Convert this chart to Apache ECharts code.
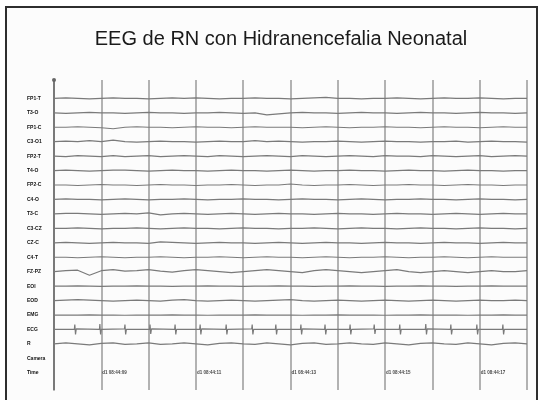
<!DOCTYPE html>
<html>
<head>
<meta charset="utf-8">
<script src="https://cdn.jsdelivr.net/npm/echarts@6/dist/echarts.min.js"></script>
<style>
html,body{margin:0;padding:0;background:#ffffff;}
#chart{width:544px;height:400px;}
</style>
</head>
<body>
<div id="chart"></div>
<script>
const titleText = "EEG de RN con Hidranencefalia Neonatal";
const channelLabels = ["FP1-T","T3-O","FP1-C","C3-O1","FP2-T","T4-O","FP2-C","C4-O","T3-C","C3-CZ","CZ-C","C4-T","FZ-PZ","EOI","EOD","EMG","ECG","R","Camera","Time"];
const timeTicks = [1,3,5,7,9];
const timeLabels = ["d1 08:44:09","d1 08:44:11","d1 08:44:13","d1 08:44:15","d1 08:44:17"];
const sampleStep = 0.25; // seconds between samples
const ampToRow = 1/14.45; // one amplitude unit in row heights

const ch0  = [0,0.5,0,-0.5,0,0.5,0,0,-0.5,0,0.5,0,0.5,0,-0.5,0,0,0.5,0,0,-0.5,0,0.5,1,0,0,-0.5,0,0,0.5,0,-0.5,0,0.5,0,0,0.5,0,-0.5,0,0];
const ch1  = [0,-0.5,0,0.5,0,0,-0.5,0,0.5,0,0,-0.5,0,0,0.5,0,-0.5,0,-2,-1,0,0.5,0,0,-0.5,0,0.5,0,0,-0.5,0,0.5,0,0,-0.5,0,0.5,0,0,-0.5,0];
const ch2  = [0,0,0.5,0,-0.5,-1.5,0,0.5,0,0,-0.5,0,0.5,0,0,-0.5,0,0.5,0,0,0,-0.5,0,0.5,0,-0.5,0,0,0.5,0,0,-0.5,0,0.5,0,0,-0.5,0,0.5,0,0];
const ch3  = [0,0.5,0,1,0,1.5,0,-0.5,0,0.5,0,0,-0.5,0,0.5,0,0,1,0,0.5,0,-0.5,0,0,0.5,0,-0.5,0,0.5,0,0,-0.5,0,0,0.5,-0.5,0,0.5,0,0,-0.5];
const ch4  = [0,-0.5,0.5,0,-0.5,0.5,-0.5,0,0.5,-0.5,0,0.5,0,-0.5,0.5,0,-0.5,0,0.5,0,-0.5,0.5,0,-0.5,0,0.5,0,-0.5,0.5,0,0,-0.5,0.5,0,-0.5,0,0.5,-0.5,0,0.5,0];
const ch5  = [0,0.5,0,-0.5,0,0.5,0.5,0,-0.5,0,0.5,0,0,-0.5,0,0.5,0,0,-0.5,0,0.5,0,-0.5,0,0,0.5,0,0,-0.5,0,0.5,0,0,-0.5,0,0.5,0,0,-0.5,0,0];
const ch6  = [0,0,-0.5,0,0.5,0,0,-0.5,0,0.5,0,0,-0.5,0,0,0.5,0,-0.5,0,0,1,0,-0.5,0,0,0.5,0,-0.5,0,0,0.5,0,0,-0.5,0,0.5,0,0,-0.5,0,0];
const ch7  = [0,0.5,0,0,-0.5,0,0.5,0,-0.5,0,0,0.5,0,-0.5,0,0,0.5,0,0,-0.5,0,0.5,0,0,-0.5,0,0.5,0,-0.5,0,0,0.5,0,0,-0.5,0,0.5,0,0,-0.5,0];
const ch8  = [0,0.5,0.5,0,-0.5,0,0.5,0,1,-1,0,0.5,0,-0.5,0,0.5,0,-0.5,0,0.5,0,0,-0.5,0,0.5,0,0,-0.5,0,0.5,0,0,-0.5,0,0.5,0,-0.5,0,0.5,0,0];
const ch9  = [0,0,0.5,0,-0.5,0,0,0.5,0,-0.5,0,0.5,0,0,-0.5,0,0.5,0,0,-0.5,0,0,0.5,0,-0.5,0,0.5,0,0,-0.5,0,0.5,0,0,-0.5,0,0.5,0,0,-0.5,0];
const ch10 = [0,0.5,0,-0.5,0,0.5,0,0,-0.5,1,0.5,0,-0.5,0,0.5,0,0,-0.5,0,0.5,0,-0.5,0,0.5,0,0,-0.5,0,0.5,0,0,-0.5,0,0.5,0,0,-0.5,0,0.5,0,0];
const ch11 = [0,0,-0.5,0,0.5,0,-0.5,0,0,0.5,0,-0.5,0,0,0.5,0,-0.5,0,0.5,0,0,-0.5,0,0.5,0,-0.5,0,0,0.5,0,-0.5,0,0,0.5,0,-0.5,0,0.5,0,0,0];
const ch12 = [0,1,1.5,-3.5,1,2,0.5,1,2,0.5,-0.5,1,2,1,0,-1,0,1,2,1,0,-1,1,2,1,0,-1,0,1,2,0,-1,0,1,0,-1,0,1,0,0,1];
const ch13 = [0,0,0.3,0,-0.3,0,0,0.3,0,0,-0.3,0,0,0.3,0,0,-0.3,0,0,0.3,0,0,-0.3,0,0,0.3,0,0,-0.3,0,0,0.3,0,0,-0.3,0,0,0.3,0,0,0];
const ch14 = [0,0.5,1,0.5,0,-0.5,0,0.5,0,-0.5,0.5,1,0,-0.5,0,0.5,0,-0.5,0,0.5,1,0,-0.5,0,0.5,0,-0.5,0,0.5,0,-0.5,0,0.5,0,-0.5,0,0.5,0,0,0.5,0];
const ch15 = [0,0,0,0.2,0,0,-0.2,0,0,0,0.2,0,0,-0.2,0,0,0,0.2,0,0,0,-0.2,0,0,0.2,0,0,0,-0.2,0,0,0.2,0,0,0,-0.2,0,0,0.2,0,0];
const ch17 = [0,1,0,-1,0.5,1,-0.5,0,1,-0.5,0,1,0,-1,0.5,1,0,-0.5,1,0,-1,0.5,1,-0.5,0,1,0,-0.5,1,0,-1,0.5,1,0,-0.5,1,0,-1,0.5,1,0];

// ECG: explicit time (s) / amplitude pairs
const ecgT = [0,0.43,0.44,0.455,0.47,0.96,0.97,0.985,1.00,1.49,1.50,1.515,1.53,2.02,2.03,2.045,2.06,2.55,2.56,2.575,2.59,3.08,3.09,3.105,3.12,3.63,3.64,3.655,3.67,4.18,4.19,4.205,4.22,4.68,4.69,4.705,4.72,5.21,5.22,5.235,5.25,5.72,5.73,5.745,5.76,6.25,6.26,6.275,6.29,6.76,6.77,6.785,6.80,7.30,7.31,7.325,7.34,7.85,7.86,7.875,7.89,8.38,8.39,8.405,8.42,8.93,8.94,8.955,8.97,9.48,9.49,9.505,9.52,10];
const ecgV = [0,0,5,-5,0.5,0,5.5,-5,0,0.5,5,-5,0,0,5,-4.5,0.5,0,5,-5,0,0,5,-5,0.5,0,5,-5,0,0.5,5,-5,0,0,5,-5,0,0,5,-5,0.5,0,5,-5,0,0,5,-5,0,0.5,5,-4.5,0,0,5,-5,0,0,5.5,-5,0.5,0,5,-5,0,0,5,-5,0,0,5,-5,0,0];

const eegChannels = [ch0,ch1,ch2,ch3,ch4,ch5,ch6,ch7,ch8,ch9,ch10,ch11,ch12,ch13,ch14,ch15];
const traceColor = '#7a7a7a';

const series = [];
eegChannels.forEach(function(vals, row){
  series.push({
    type:'line', name: channelLabels[row], symbol:'none', silent:true,
    lineStyle:{color:traceColor, width:1.2},
    data: vals.map(function(v,k){ return [k*sampleStep, row - v*ampToRow]; })
  });
});
series.push({
  type:'line', name:'ECG', symbol:'none', silent:true,
  lineStyle:{color:traceColor, width:1.2},
  data: ecgT.map(function(t,k){ return [t, 16 - ecgV[k]*ampToRow]; })
});
series.push({
  type:'line', name:'R', symbol:'none', silent:true,
  lineStyle:{color:traceColor, width:1.2},
  data: ch17.map(function(v,k){ return [k*sampleStep, 17 - v*ampToRow]; })
});
series.push({
  type:'scatter', name:'timeLabels', symbolSize:0, silent:true,
  data: timeTicks.map(function(t,k){ return {value:[t,19], name: timeLabels[k]}; }),
  label:{show:true, position:'right', distance:1, formatter:'{b}', fontSize:4.5, fontWeight:'bold', color:'#111', fontFamily:'Liberation Sans'}
});

const rowValues = channelLabels.map(function(_,i){ return i; });

const chart = echarts.init(document.getElementById('chart'), null, {renderer:'canvas'});
chart.setOption({
  backgroundColor:'#ffffff',
  animation:false,
  graphic:[{
    type:'rect', z:-10, silent:true,
    shape:{x:6, y:7, width:531, height:400},
    style:{fill:'#fcfcfc', stroke:'#2e2e2e', lineWidth:2}
  }],
  title:{
    text:titleText, left:276, top:24, textAlign:'center',
    textStyle:{fontFamily:'Liberation Sans', fontSize:20, fontWeight:'normal', color:'#1a1a1a'}
  },
  grid:{left:54, right:17, top:80, bottom:10, containLabel:false},
  xAxis:{
    type:'value', min:0, max:10, interval:1,
    axisLine:{show:false}, axisTick:{show:false}, axisLabel:{show:false},
    splitLine:{show:true, lineStyle:{color:'#9a9a9a', width:1.5}}
  },
  yAxis:{
    type:'value', min:-1.27, max:20.19, inverse:true,
    axisLine:{show:true, symbol:['none','circle'], symbolSize:[4,4], lineStyle:{color:'#666', width:1.5}},
    axisTick:{show:false},
    splitLine:{show:false},
    axisLabel:{
      show:true, customValues: rowValues, align:'left', margin:27,
      fontSize:5, fontWeight:'bold', color:'#111', fontFamily:'Liberation Sans',
      formatter:function(v){ return channelLabels[Math.round(v)] || ''; }
    }
  },
  series: series
});
</script>
</body>
</html>
